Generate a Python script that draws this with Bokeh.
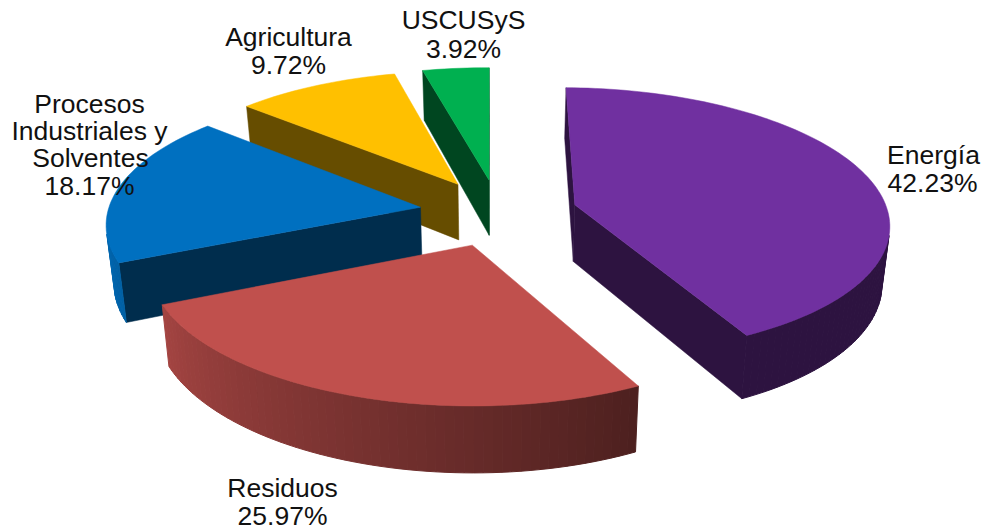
import math
import numpy as np
from bokeh.plotting import figure
from bokeh.models import Range1d
from bokeh.core.properties import value
from bokeh.embed import file_html
from bokeh.resources import INLINE

# ---- data
names = ["Energía", "Residuos", "Procesos Industriales y Solventes", "Agricultura", "USCUSyS"]
shares = [42.23, 25.97, 18.17, 9.72, 3.92]
share_labels = ["42.23%", "25.97%", "18.17%", "9.72%", "3.92%"]
colors = ["#7030A0", "#C0504D", "#0070C0", "#FFC000", "#00B050"]

# ---- label layout (one entry per printed line)
label_lines = ["Energía", "42.23%", "Residuos", "25.97%", "Procesos", "Industriales y",
               "Solventes", "18.17%", "Agricultura", "9.72%", "USCUSyS", "3.92%"]
label_x = [933, 932, 282, 282, 89, 89, 90, 89, 288, 288, 463, 463]
label_y = [154, 182, 487, 515, 103, 130, 157, 185, 36, 64, 19, 48]

# ---- projection of the tilted, exploded pie
CX, CY = 498.0, 212.0     # pie centre on the page
RX, RY = 313.0, 133.0     # radii on the page
PERSP = 0.12              # perspective strength along depth
SHEAR = 4.5               # sideways lean of the far side
EXPLODE = 0.253           # explosion, in radii
THICK = 57.0              # side height on the page
CONVERGE = 0.98           # bottom face shrinks slightly
START = 0.8               # angle of first slice, clockwise from north


def mix(hex_col, f):
    r, g, b = int(hex_col[1:3], 16), int(hex_col[3:5], 16), int(hex_col[5:7], 16)
    return "#%02x%02x%02x" % (round(r * f), round(g * f), round(b * f))


def proj(X, Y, bottom=False):
    w = 1 + PERSP * Y
    sx = RX * X / w - SHEAR * Y
    if bottom:
        return CX + sx * CONVERGE, CY - RY * Y / w + THICK / w
    return CX + sx, CY - RY * Y / w


def rim_shade(t):
    # side light: dark on the right-hand front, bright on the left
    return min(1.0, max(0.4, 0.4 + 0.45 * (t - 153.0) / 93.0))


def faces_viewer(p0, p1, b0):
    # the polygon runs clockwise on the page: a side face shows if "down" points out of the edge
    dx, dy = p1[0] - p0[0], p1[1] - p0[1]
    Dx, Dy = b0[0] - p0[0], b0[1] - p0[1]
    return Dx * dy - Dy * dx > 0


p = figure(width=982, height=529, output_backend="svg", toolbar_location=None,
           x_range=Range1d(0, 982), y_range=Range1d(529, 0), min_border=0,
           outline_line_color=None, background_fill_color="white", border_fill_color="white")
p.axis.visible = False
p.grid.visible = False

total = sum(shares)
slices = []
a = START
for name, s, col in zip(names, shares, colors):
    sweep = 360.0 * s / total
    slices.append((name, a, a + sweep, col))
    a += sweep

# far slices first, near ones painted over them
order = [4, 3, 2, 0, 1]
for i in order:
    name, t0, t1, col = slices[i]
    mid = math.radians((t0 + t1) / 2)
    ox, oy = EXPLODE * math.sin(mid), EXPLODE * math.cos(mid)
    ts = np.linspace(t0, t1, max(4, int((t1 - t0) / 1.5) + 1))
    X = ox + np.sin(np.radians(ts))
    Y = oy + np.cos(np.radians(ts))
    top = [proj(x, y) for x, y in zip(X, Y)]
    bot = [proj(x, y, True) for x, y in zip(X, Y)]
    A = proj(ox, oy)
    B = proj(ox, oy, True)
    dark = mix(col, 0.4)

    # radial cut faces that look towards the viewer
    if faces_viewer(A, top[0], B):
        p.patch([A[0], top[0][0], bot[0][0], B[0]], [A[1], top[0][1], bot[0][1], B[1]],
                fill_color=dark, line_color=dark, line_width=0.5)
    if faces_viewer(top[-1], A, bot[-1]):
        p.patch([A[0], top[-1][0], bot[-1][0], B[0]], [A[1], top[-1][1], bot[-1][1], B[1]],
                fill_color=dark, line_color=dark, line_width=0.5)
    # outer rim as narrow quads
    xs, ys, cs = [], [], []
    for k in range(len(ts) - 1):
        if not faces_viewer(top[k], top[k + 1], bot[k]):
            continue
        c = mix(col, rim_shade((ts[k] + ts[k + 1]) / 2))
        xs.append([top[k][0], top[k + 1][0], bot[k + 1][0], bot[k][0]])
        ys.append([top[k][1], top[k + 1][1], bot[k + 1][1], bot[k][1]])
        cs.append(c)
    if xs:
        p.patches(xs, ys, fill_color=cs, line_color=cs, line_width=1.0)
    # top face
    p.patch([A[0]] + [q[0] for q in top], [A[1]] + [q[1] for q in top],
            fill_color=col, line_color=col, line_width=0.5)

p.text(label_x, label_y, text=label_lines, text_font=value("Liberation Sans"),
       text_font_size="26.5px", text_align="center", text_baseline="middle", text_color="#111111")

open("out.html", "w").write(file_html(p, INLINE))
